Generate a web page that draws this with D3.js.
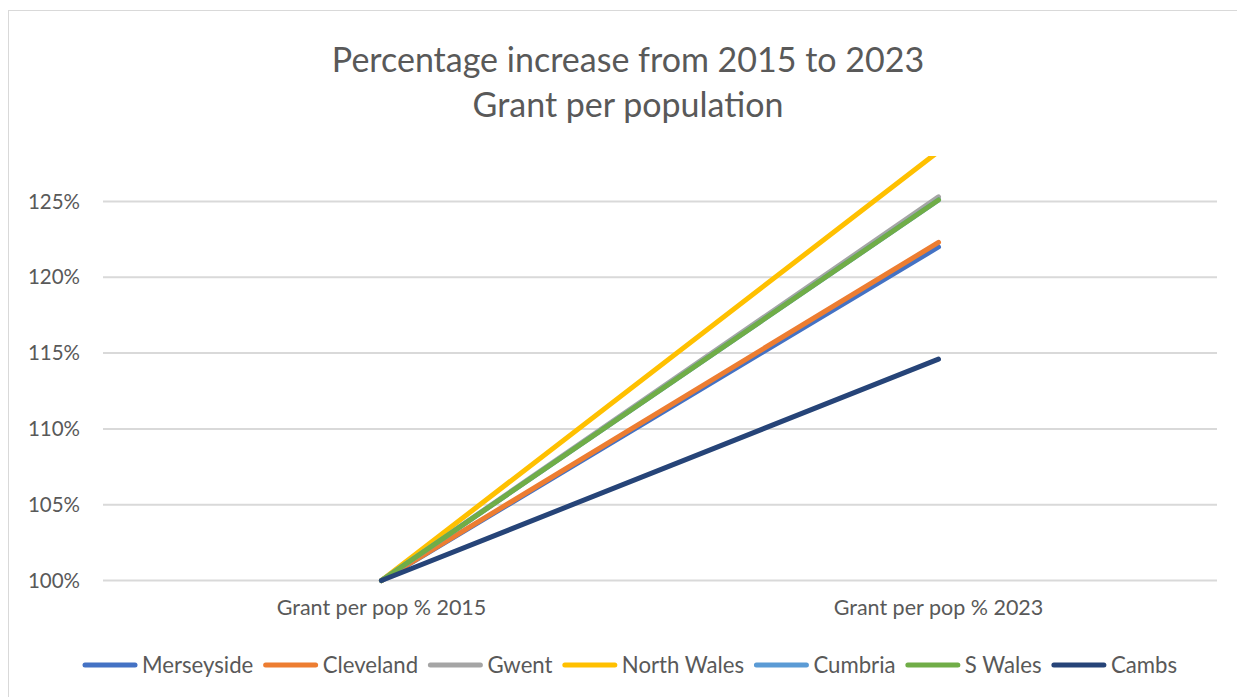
<!DOCTYPE html>
<html>
<head>
<meta charset="utf-8">
<script src="https://cdn.jsdelivr.net/npm/d3@7"></script>
<style>
  body { margin: 0; background: #fff; }
  text { font-family: Lato, "Open Sans", sans-serif; fill: #595959; }
</style>
</head>
<body>
<svg id="chart" width="1237" height="697"></svg>
<script>
/* data */
const categories = ["Grant per pop % 2015", "Grant per pop % 2023"];
const seriesNames = ["Merseyside", "Cleveland", "Gwent", "North Wales", "Cumbria", "S Wales", "Cambs"];
const seriesColors = ["#4472c4", "#ed7d31", "#a5a5a5", "#ffc000", "#5b9bd5", "#70ad47", "#264478"];
const merseyside = [1.00, 1.220];
const cleveland = [1.00, 1.223];
const gwent = [1.00, 1.253];
const northWales = [1.00, 1.283];
const cumbria = [1.00, 1.251];
const sWales = [1.00, 1.251];
const cambs = [1.00, 1.146];
const yTicks = [1.00, 1.05, 1.10, 1.15, 1.20, 1.25];
const titleLines = ["Percentage increase from 2015 to 2023", "Grant per population"];

const seriesValues = [merseyside, cleveland, gwent, northWales, cumbria, sWales, cambs];

const width = 1237;
const height = 697;
const margin = { top: 156, right: 20, bottom: 117, left: 103 };

const svg = d3.select("#chart");

// chart border
svg.append("rect")
    .attr("x", 8.5).attr("y", 10.5)
    .attr("width", 1240).attr("height", 700)
    .attr("fill", "none")
    .attr("stroke", "#d9d9d9")
    .attr("stroke-width", 1);

const xScale = d3.scaleBand()
    .domain(categories)
    .range([margin.left, width - margin.right]);

const yScale = d3.scaleLinear()
    .domain([1.00, 1.28])
    .range([height - margin.bottom + 0.5, margin.top]);

// gridlines
svg.append("g")
    .selectAll("line")
    .data(yTicks)
    .enter()
    .append("line")
    .attr("x1", margin.left)
    .attr("x2", width - margin.right)
    .attr("y1", d => yScale(d))
    .attr("y2", d => yScale(d))
    .attr("stroke", "#d9d9d9")
    .attr("stroke-width", 2);

// y axis labels
const yAxis = d3.axisLeft(yScale)
    .tickValues(yTicks)
    .tickSize(0)
    .tickPadding(0)
    .tickFormat(d3.format(".0%"));
svg.append("g")
    .attr("transform", "translate(80,0)")
    .call(yAxis)
    .call(g => g.select(".domain").remove())
    .selectAll("text")
    .style("font-size", "20.5px")
    .attr("fill", "#595959");

// x axis labels
const xAxis = d3.axisBottom(xScale)
    .tickSize(0)
    .tickPadding(0);
svg.append("g")
    .attr("transform", "translate(0," + 600 + ")")
    .call(xAxis)
    .call(g => g.select(".domain").remove())
    .selectAll("text")
    .style("font-size", "21.5px")
    .attr("fill", "#595959");

// clip to plot area
svg.append("clipPath").attr("id", "plot")
    .append("rect")
    .attr("x", margin.left - 10)
    .attr("y", margin.top)
    .attr("width", width - margin.left - margin.right + 20)
    .attr("height", height - margin.top - margin.bottom + 10);

const line = d3.line()
    .x((d, i) => xScale(categories[i]) + xScale.bandwidth() / 2)
    .y(d => yScale(d));

svg.append("g")
    .attr("clip-path", "url(#plot)")
    .selectAll("path")
    .data(seriesValues)
    .enter()
    .append("path")
    .attr("d", d => line(d))
    .attr("fill", "none")
    .attr("stroke", (d, i) => seriesColors[i])
    .attr("stroke-width", 5)
    .attr("stroke-linecap", "round")
    .attr("stroke-linejoin", "round");

// title
svg.append("text")
    .attr("x", 628)
    .attr("y", 72)
    .attr("text-anchor", "middle")
    .style("font-size", "34px")
    .selectAll("tspan")
    .data(titleLines)
    .enter()
    .append("tspan")
    .attr("x", 628)
    .attr("dy", (d, i) => i ? 45 : 0)
    .text(d => d);

// legend
const legend = svg.append("g").attr("transform", "translate(82,665)");
let lx = 0;
seriesNames.forEach((name, i) => {
    const item = legend.append("g").attr("transform", "translate(" + lx + ",0)");
    item.append("line")
        .attr("x1", 3).attr("x2", 53)
        .attr("y1", 0).attr("y2", 0)
        .attr("stroke", seriesColors[i])
        .attr("stroke-width", 5)
        .attr("stroke-linecap", "round");
    const t = item.append("text")
        .attr("x", 60)
        .attr("y", 8)
        .style("font-size", "22.2px")
        .text(name);
    lx += 60 + t.node().getComputedTextLength() + 9.3;
});
</script>
</body>
</html>
